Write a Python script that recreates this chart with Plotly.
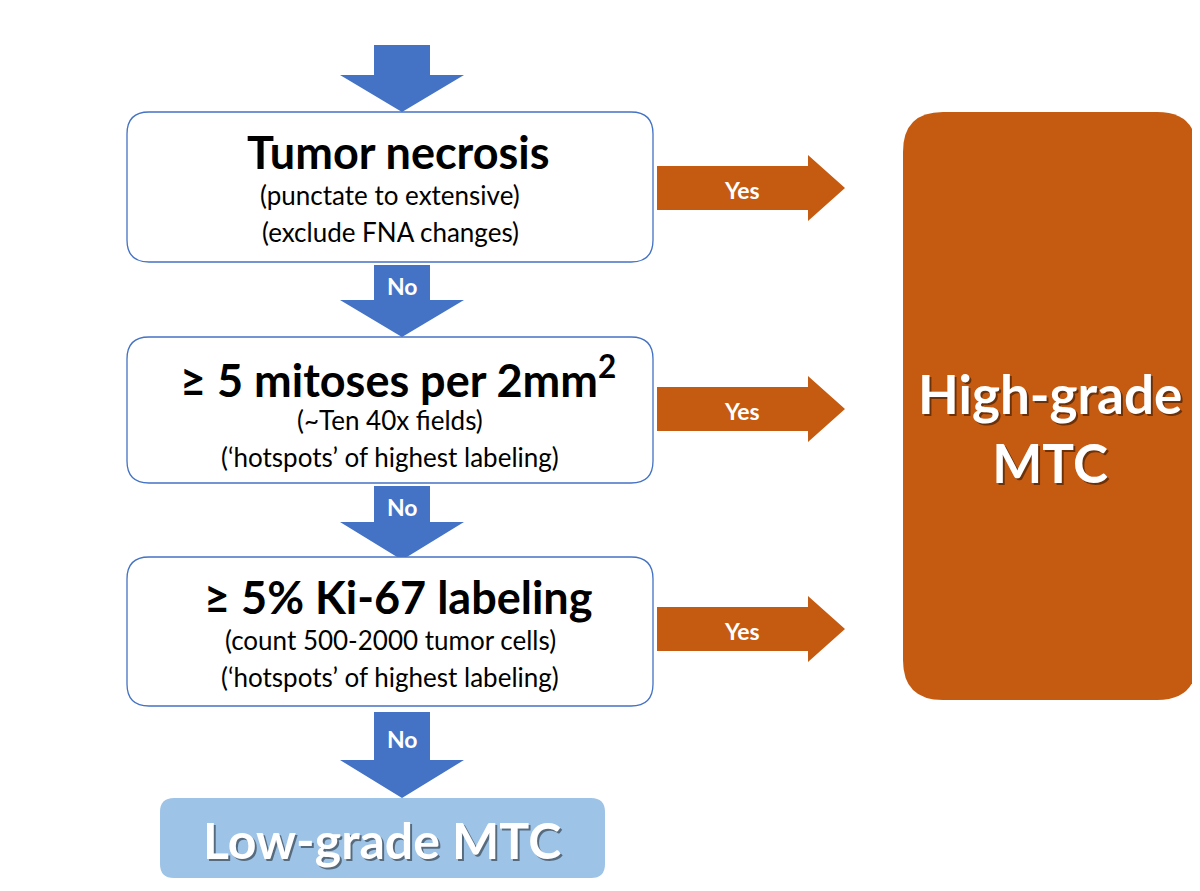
import plotly.graph_objects as go

title = "Medullary thyroid carcinoma: grading checklist"
box_heads = ["Tumor necrosis", "≥ 5 mitoses per 2mm<sup>2</sup>", "≥ 5% Ki-67 labeling"]
box_sub1 = ["(punctate to extensive)", "(~Ten 40x fields)", "(count 500-2000 tumor cells)"]
box_sub2 = ["(exclude FNA changes)", "(‘hotspots’ of highest labeling)", "(‘hotspots’ of highest labeling)"]
box_top = [112, 337, 557]
box_bot = [262, 483, 706]
no_label = "No"
yes_label = "Yes"
high_label = "High-grade<br>MTC"
low_label = "Low-grade MTC"

BLUE = "#4472C4"
ORANGE = "#C55A11"
LIGHT = "#9DC3E6"
FONT = "Lato"

def rrect(x0, y0, x1, y1, r):
    return (f"M{x0+r},{y0} L{x1-r},{y0} Q{x1},{y0} {x1},{y0+r} L{x1},{y1-r} Q{x1},{y1} {x1-r},{y1} "
            f"L{x0+r},{y1} Q{x0},{y1} {x0},{y1-r} L{x0},{y0+r} Q{x0},{y0} {x0+r},{y0} Z")

def down_arrow(cx, y0, yh, y1, sw=28, hw=62):
    return (f"M{cx-sw},{y0} L{cx+sw},{y0} L{cx+sw},{yh} L{cx+hw},{yh} L{cx},{y1} "
            f"L{cx-hw},{yh} L{cx-sw},{yh} Z")

def right_arrow(cy, x0, xh, x1, sw=22, hw=33):
    return (f"M{x0},{cy-sw} L{xh},{cy-sw} L{xh},{cy-hw} L{x1},{cy} L{xh},{cy+hw} "
            f"L{xh},{cy+sw} L{x0},{cy+sw} Z")

shapes, ann = [], []
cx = 402
arrows = [(45, 75, 112), (265, 300, 337), (486, 522, 560), (712, 760, 798)]
for i, (a, b, c) in enumerate(arrows):
    shapes.append(dict(type="path", path=down_arrow(cx, a, b, c), fillcolor=BLUE, line_width=0, layer="below"))
    if i > 0:
        ann.append(dict(x=cx, y=(a + b) / 2 + 3, text=f"<b>{no_label}</b>", showarrow=False,
                        font=dict(size=23, color="white", family=FONT)))
for i in range(3):
    t, b = box_top[i], box_bot[i]
    shapes.append(dict(type="path", path=rrect(127, t, 653, b, 22), fillcolor="white",
                       line=dict(color=BLUE, width=1.3)))
    ann.append(dict(x=398, y=t + 40, text=f"<b>{box_heads[i]}</b>", showarrow=False,
                    font=dict(size=45, color="black", family=FONT)))
    ann.append(dict(x=390, y=t + 83, text=box_sub1[i], showarrow=False,
                    font=dict(size=26, color="black", family=FONT)))
    ann.append(dict(x=390, y=t + 120, text=box_sub2[i], showarrow=False,
                    font=dict(size=26, color="black", family=FONT)))
    cy = [188, 409, 629][i]
    shapes.append(dict(type="path", path=right_arrow(cy, 657, 808, 845), fillcolor=ORANGE, line_width=0))
    ann.append(dict(x=742, y=cy + 2, text=f"<b>{yes_label}</b>", showarrow=False,
                    font=dict(size=23, color="white", family=FONT)))
shapes.append(dict(type="path", path=rrect(903, 112, 1197, 700, 40), fillcolor=ORANGE, line_width=0))
for dx, col in [(2, "rgba(0,0,0,0.45)"), (0, "white")]:
    ann.append(dict(x=1050 + dx, y=428 + dx, text=f"<b>{high_label}</b>", showarrow=False,
                    font=dict(size=53, color=col, family=FONT)))
shapes.append(dict(type="path", path=rrect(160, 798, 605, 878, 14), fillcolor=LIGHT, line_width=0))
for dx, col in [(2, "rgba(0,0,0,0.45)"), (0, "white")]:
    ann.append(dict(x=382 + dx, y=840 + dx, text=f"<b>{low_label}</b>", showarrow=False,
                    font=dict(size=50, color=col, family=FONT)))
ann.append(dict(x=0, y=20, text=title, showarrow=False, xanchor="left",
                font=dict(size=39, color="black", family=FONT)))

fig = go.Figure()
fig.update_layout(width=1200, height=891, margin=dict(l=0, r=0, t=0, b=0),
                  plot_bgcolor="white", paper_bgcolor="white", shapes=shapes, annotations=ann,
                  xaxis=dict(range=[8, 1208], visible=False, fixedrange=True),
                  yaxis=dict(range=[899, 8], visible=False, fixedrange=True))
fig.write_html("out.html")
